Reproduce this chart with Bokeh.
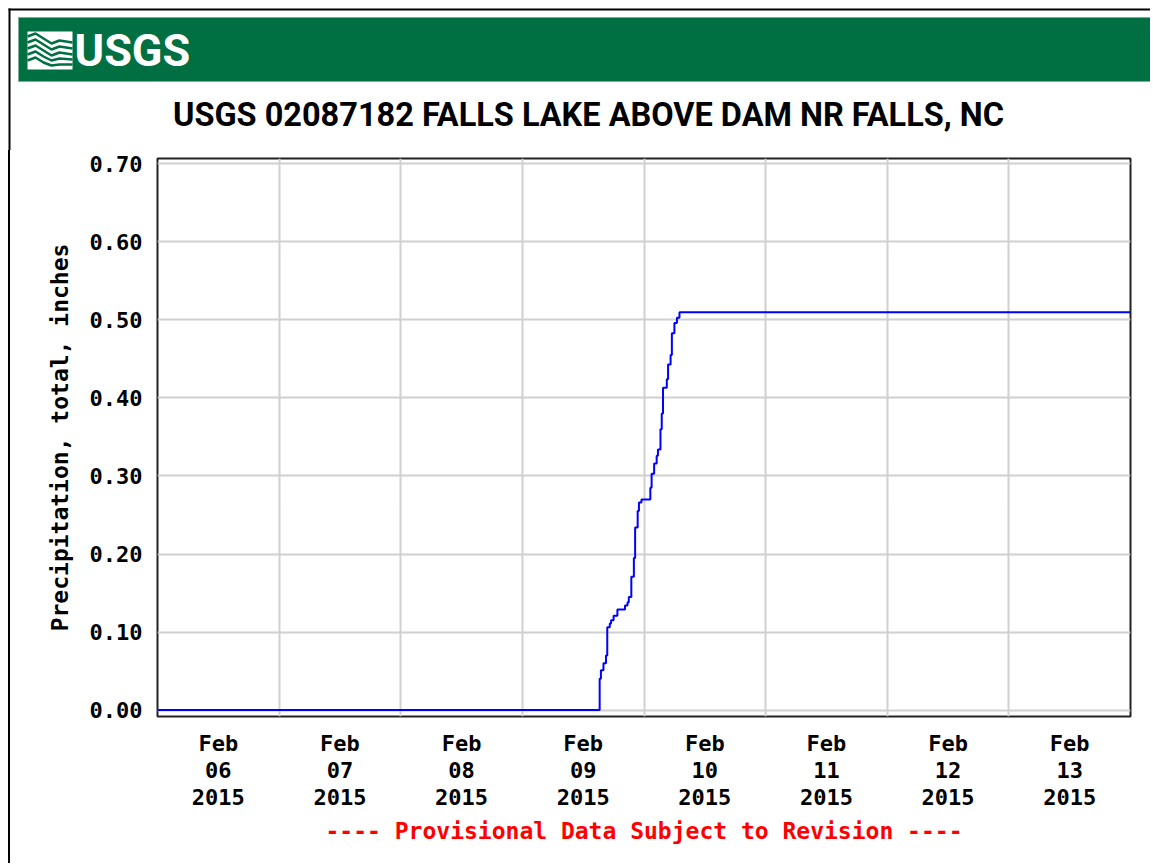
import pandas as pd
from bokeh.plotting import figure
from bokeh.models import Range1d, FixedTicker, Title, ColumnDataSource, Spacer
from bokeh.layouts import column, row
from bokeh.core.properties import value
from bokeh.embed import file_html
from bokeh.resources import INLINE

# ---------------- data ----------------
station_title = "USGS 02087182 FALLS LAKE ABOVE DAM NR FALLS, NC"
y_label = "Precipitation, total, inches"
footer = "---- Provisional Data Subject to Revision ----"

times = [
    "2015-02-06 00:00", "2015-02-09 15:15", "2015-02-09 15:30", "2015-02-09 16:00",
    "2015-02-09 16:30", "2015-02-09 16:45", "2015-02-09 17:15", "2015-02-09 17:30",
    "2015-02-09 18:00", "2015-02-09 18:45", "2015-02-09 20:15", "2015-02-09 20:45",
    "2015-02-09 21:00", "2015-02-09 21:30", "2015-02-09 22:00", "2015-02-09 22:15",
    "2015-02-09 22:45", "2015-02-09 23:00", "2015-02-09 23:30", "2015-02-10 01:15",
    "2015-02-10 01:30", "2015-02-10 02:00", "2015-02-10 02:30", "2015-02-10 02:45",
    "2015-02-10 03:15", "2015-02-10 03:30", "2015-02-10 03:45", "2015-02-10 04:30",
    "2015-02-10 04:45", "2015-02-10 05:15", "2015-02-10 05:30", "2015-02-10 06:00",
    "2015-02-10 06:30", "2015-02-10 07:00", "2015-02-14 00:00",
]
precip = [
    0.000, 0.040, 0.051, 0.060,
    0.070, 0.106, 0.111, 0.115,
    0.121, 0.129, 0.134, 0.138,
    0.145, 0.171, 0.195, 0.234,
    0.255, 0.266, 0.270, 0.285,
    0.303, 0.316, 0.326, 0.334,
    0.360, 0.380, 0.413, 0.424,
    0.443, 0.455, 0.483, 0.496,
    0.503, 0.510, 0.510,
]

x_start = "2015-02-06 00:00"
x_end = "2015-02-14 00:00"
day_grid = ["2015-02-07", "2015-02-08", "2015-02-09", "2015-02-10",
            "2015-02-11", "2015-02-12", "2015-02-13"]
x_tick_pos = ["2015-02-06 12:00", "2015-02-07 12:00", "2015-02-08 12:00", "2015-02-09 12:00",
              "2015-02-10 12:00", "2015-02-11 12:00", "2015-02-12 12:00", "2015-02-13 12:00"]
x_tick_labels = ["Feb\n06\n2015", "Feb\n07\n2015", "Feb\n08\n2015", "Feb\n09\n2015",
                 "Feb\n10\n2015", "Feb\n11\n2015", "Feb\n12\n2015", "Feb\n13\n2015"]
y_ticks = [0.0, 0.1, 0.2, 0.3, 0.4, 0.5, 0.6, 0.7]
y_tick_labels = ["0.00", "0.10", "0.20", "0.30", "0.40", "0.50", "0.60", "0.70"]


def ms(s):
    return float(pd.Timestamp(s).value // 10**6)


MONO = "DejaVu Sans Mono"
W = 1150
HH = 150
MH = 713
GREEN = "#006f41"

# ---------------- header ----------------
h = figure(width=W, height=HH, x_range=Range1d(0, W), y_range=Range1d(HH, 0),
           output_backend="svg", toolbar_location=None, min_border=0,
           x_axis_location=None, y_axis_location=None, outline_line_color=None,
           frame_align=False)
h.grid.visible = False
# outer black border (top + left)
h.segment(x0=[8, 9], y0=[9, 8], x1=[W, 9], y1=[9, HH], line_color="black", line_width=2)
# green banner
h.quad(left=18, right=W, top=17, bottom=81, fill_color=GREEN, line_color="#7fb096", line_width=1)
# logo icon
h.quad(left=27, right=72, top=31, bottom=69, fill_color="white", line_color=None)
wave_xs = [[27, 35, 43, 51, 59, 72]] * 5
wave_ys = [[36, 33, 38, 43, 40, 42], [42, 39, 44, 49, 46, 48], [48, 45, 50, 55, 52, 54],
           [54, 51, 56, 60, 58, 59], [60, 57, 62, 65, 64, 64]]
h.multi_line(xs=wave_xs, ys=wave_ys, line_color=GREEN, line_width=2.5)
h.text(x=[74], y=[50], text=["USGS"], text_color="white",
       text_font=value("Roboto"), text_font_style="bold",
       text_font_size="45px", text_baseline="middle", text_align="left")
h.text(x=[588], y=[114], text=[station_title], text_color="black",
       text_font=value("Roboto"), text_font_style="bold",
       text_font_size="32.5px", text_baseline="middle", text_align="center")

# ---------------- main plot ----------------
src = ColumnDataSource(dict(t=pd.to_datetime(times), v=precip))

p = figure(width=W - 10, height=MH, x_axis_type="datetime",
           x_range=Range1d(pd.Timestamp(x_start), pd.Timestamp(x_end)),
           y_range=Range1d(-0.0083, 0.707),
           output_backend="svg", toolbar_location=None, frame_align=False,
           min_border_left=147, min_border_right=20, min_border_top=8, min_border_bottom=147)
p.outline_line_color = "#222222"
p.outline_line_width = 2

p.xgrid.ticker = FixedTicker(ticks=[ms(d) for d in day_grid])
p.ygrid.ticker = FixedTicker(ticks=y_ticks)
for g in (p.xgrid, p.ygrid):
    g.grid_line_color = "#d0d0d0"
    g.grid_line_width = 2

p.step(x="t", y="v", source=src, mode="after", line_color="#0000ff", line_width=2)

xt = [ms(s) for s in x_tick_pos]
p.xaxis.ticker = FixedTicker(ticks=xt)
p.xaxis.major_label_overrides = {k: lab for k, lab in zip(xt, x_tick_labels)}
p.yaxis.ticker = FixedTicker(ticks=y_ticks)
p.yaxis.major_label_overrides = {k: lab for k, lab in zip(y_ticks, y_tick_labels)}
p.yaxis.axis_label = y_label

for ax in (p.xaxis[0], p.yaxis[0]):
    ax.axis_line_color = None
    ax.major_tick_line_color = None
    ax.minor_tick_line_color = None
    ax.major_tick_out = 0
    ax.major_tick_in = 0
    ax.major_label_text_font = MONO
    ax.major_label_text_font_style = "bold"
    ax.major_label_text_font_size = "22px"
    ax.major_label_text_color = "black"
    ax.major_label_text_line_height = 1.08
    ax.axis_label_text_font = MONO
    ax.axis_label_text_font_style = "bold"
    ax.axis_label_text_font_size = "23px"
    ax.axis_label_text_color = "black"
p.yaxis.major_label_standoff = 15
p.yaxis.axis_label_standoff = 14
p.xaxis.major_label_standoff = 14

p.add_layout(Title(text=footer, align="center", text_color="#ff0000", text_font=MONO,
                   text_font_style="bold", text_font_size="23px", standoff=6), "below")

left_gap = Spacer(width=8, height=MH)
left_line = Spacer(width=2, height=MH, styles={"background-color": "black"})
layout = column(h, row(left_gap, left_line, p))
open("out.html", "w").write(file_html(layout, INLINE))
